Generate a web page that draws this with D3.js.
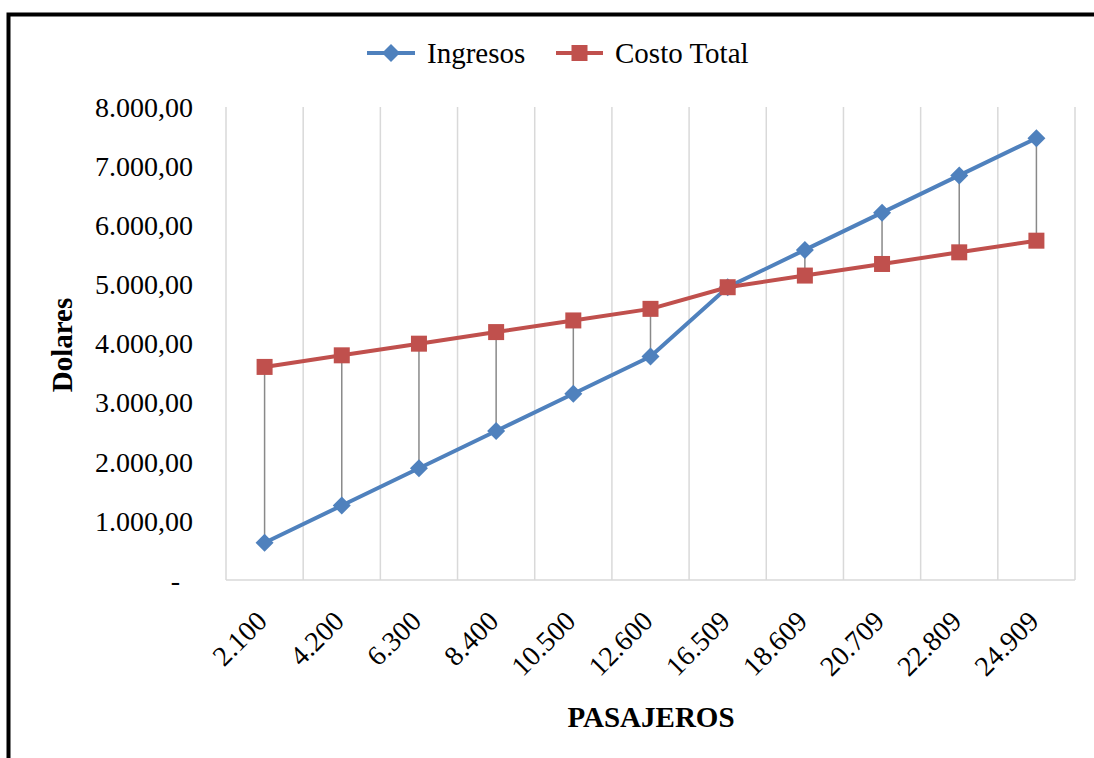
<!DOCTYPE html>
<html>
<head>
<meta charset="utf-8">
<script src="https://cdn.jsdelivr.net/npm/d3@7"></script>
<style>
  html, body { margin: 0; padding: 0; background: #fff; }
  svg { display: block; }
</style>
</head>
<body>
<svg id="chart" width="1094" height="758"></svg>
<script>
// Pasajeros (categorías del eje X)
const pasajeros = ["2.100", "4.200", "6.300", "8.400", "10.500", "12.600", "16.509", "18.609", "20.709", "22.809", "24.909"];
// Ingresos en dólares
const ingresos = [630, 1260, 1890, 2520, 3150, 3780, 4952.7, 5582.7, 6212.7, 6842.7, 7472.7];
// Costo total en dólares
const costoTotal = [3604, 3800, 3997, 4193, 4390, 4586, 4952, 5149, 5345, 5542, 5739];
// Marcas del eje Y
const yTicks = [0, 1000, 2000, 3000, 4000, 5000, 6000, 7000, 8000];

const FONT = "'Liberation Serif', 'Times New Roman', serif";
const BLUE = "#4F81BD", RED = "#C0504D";

const svg = d3.select("#chart");

// Marco exterior
svg.append("path")
  .attr("d", "M8.5,758 L8.5,14.5 L1094,14.5")
  .attr("fill", "none").attr("stroke", "#000").attr("stroke-width", 4);

const plot = { left: 226, right: 1075, top: 107, bottom: 580 };

const x = d3.scaleBand().domain(pasajeros).range([plot.left, plot.right]).padding(0);
const y = d3.scaleLinear().domain([0, 8000]).range([plot.bottom, plot.top]);

// Líneas de cuadrícula verticales en los límites de categoría
const bounds = pasajeros.map(p => x(p)).concat([plot.right]);
svg.append("g").selectAll("line").data(bounds).join("line")
  .attr("x1", d => d).attr("x2", d => d)
  .attr("y1", plot.top).attr("y2", plot.bottom)
  .attr("stroke", "#d9d9d9").attr("stroke-width", 1.5);

// Eje X (línea base)
svg.append("line")
  .attr("x1", plot.left).attr("x2", plot.right)
  .attr("y1", plot.bottom).attr("y2", plot.bottom)
  .attr("stroke", "#d9d9d9").attr("stroke-width", 1.5);

// Etiquetas del eje Y
const fmt = v => v === 0 ? "-" :
  d3.format(",.2f")(v).replace(/,/g, "#").replace(".", ",").replace(/#/g, ".");
svg.append("g").selectAll("text").data(yTicks).join("text")
  .attr("x", d => d === 0 ? 180 : 193)
  .attr("y", d => y(d))
  .attr("dy", "0.35em")
  .attr("text-anchor", "end")
  .attr("font-family", FONT).attr("font-size", 28)
  .text(fmt);

const cx = d => x(d) + x.bandwidth() / 2;

// Etiquetas del eje X (rotadas)
svg.append("g").selectAll("text").data(pasajeros).join("text")
  .attr("transform", d => `translate(${cx(d) - 3},${plot.bottom + 36}) rotate(-45)`)
  .attr("text-anchor", "end")
  .attr("dy", "0.35em")
  .attr("font-family", FONT).attr("font-size", 28)
  .text(d => d);

// Títulos de ejes
svg.append("text")
  .attr("x", 651).attr("y", 727)
  .attr("text-anchor", "middle")
  .attr("font-family", FONT).attr("font-size", 29).attr("font-weight", "bold")
  .text("PASAJEROS");
svg.append("text")
  .attr("transform", "translate(72,345) rotate(-90)")
  .attr("text-anchor", "middle")
  .attr("font-family", FONT).attr("font-size", 29).attr("font-weight", "bold")
  .text("Dolares");

// Líneas de máximo-mínimo entre series
svg.append("g").selectAll("line").data(pasajeros).join("line")
  .attr("x1", cx).attr("x2", cx)
  .attr("y1", (d, i) => y(Math.max(ingresos[i], costoTotal[i])))
  .attr("y2", (d, i) => y(Math.min(ingresos[i], costoTotal[i])))
  .attr("stroke", "#898989").attr("stroke-width", 1.5);

const line = d3.line().x(d => cx(d.p)).y(d => y(d.v));

const series = [
  { name: "Ingresos", values: ingresos, color: BLUE, marker: "diamond" },
  { name: "Costo Total", values: costoTotal, color: RED, marker: "square" }
];

function drawMarker(g, type, color) {
  if (type === "diamond") {
    g.append("path").attr("d", "M0,-9 L9,0 L0,9 L-9,0 Z").attr("fill", color);
  } else {
    g.append("rect").attr("x", -8).attr("y", -8).attr("width", 16).attr("height", 16).attr("fill", color);
  }
}

series.forEach(s => {
  const pts = pasajeros.map((p, i) => ({ p, v: s.values[i] }));
  svg.append("path").datum(pts)
    .attr("d", line).attr("fill", "none")
    .attr("stroke", s.color).attr("stroke-width", 4).attr("stroke-linejoin", "round");
  svg.append("g").selectAll("g").data(pts).join("g")
    .attr("transform", d => `translate(${cx(d.p)},${y(d.v)})`)
    .each(function () { drawMarker(d3.select(this), s.marker, s.color); });
});

// Leyenda
const legendItems = [
  { s: series[0], x0: 367, x1: 415, tx: 427 },
  { s: series[1], x0: 556, x1: 603, tx: 615 }
];
legendItems.forEach(it => {
  const g = svg.append("g");
  g.append("line").attr("x1", it.x0).attr("x2", it.x1).attr("y1", 53).attr("y2", 53)
    .attr("stroke", it.s.color).attr("stroke-width", 4);
  const m = g.append("g").attr("transform", `translate(${(it.x0 + it.x1) / 2},53)`);
  drawMarker(m, it.s.marker, it.s.color);
  g.append("text").attr("x", it.tx).attr("y", 53).attr("dy", "0.35em")
    .attr("font-family", FONT).attr("font-size", 29).text(it.s.name);
});
</script>
</body>
</html>
